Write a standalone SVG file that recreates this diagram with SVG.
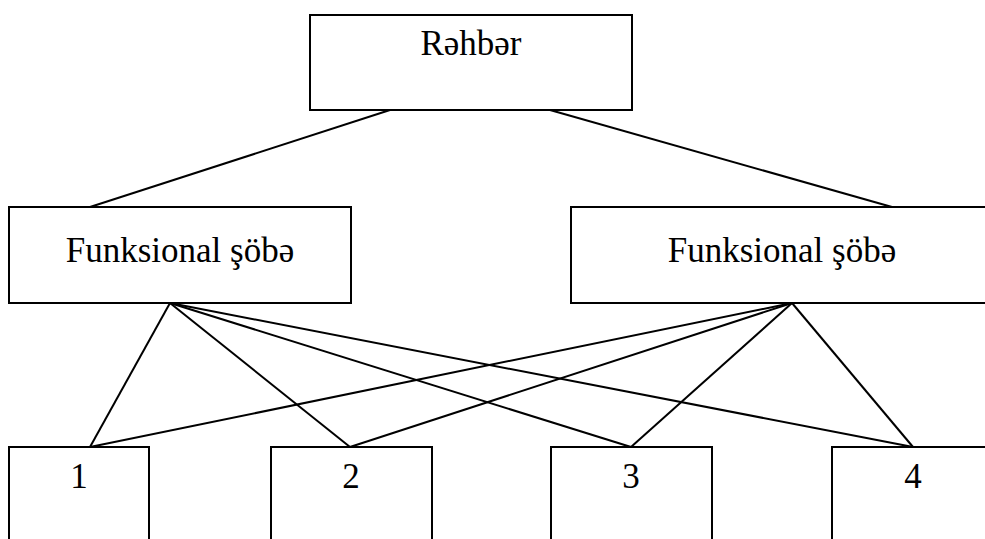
<svg xmlns="http://www.w3.org/2000/svg" width="985" height="539" viewBox="0 0 985 539">
  <style>
    .box { fill: #ffffff; stroke: #000000; stroke-width: 2; }
    .link { stroke: #000000; stroke-width: 2; fill: none; }
    .label { font-family: "Liberation Serif", "Times New Roman", serif; font-size: 35px; fill: #000000; text-anchor: middle; }
  </style>
  <rect width="985" height="539" fill="#ffffff"/>

  <g id="connectors">
    <line class="link" x1="390" y1="110" x2="90" y2="207"/>
    <line class="link" x1="550" y1="110" x2="892" y2="207"/>
    <line class="link" x1="170" y1="303" x2="90" y2="447"/>
    <line class="link" x1="170" y1="303" x2="350" y2="447"/>
    <line class="link" x1="170" y1="303" x2="631" y2="447"/>
    <line class="link" x1="170" y1="303" x2="913" y2="447"/>
    <line class="link" x1="792" y1="303" x2="90" y2="447"/>
    <line class="link" x1="792" y1="303" x2="350" y2="447"/>
    <line class="link" x1="792" y1="303" x2="631" y2="447"/>
    <line class="link" x1="792" y1="303" x2="913" y2="447"/>
  </g>

  <g id="node-head">
    <rect class="box" x="310" y="15" width="322" height="95"/>
    <text class="label" x="471" y="55">Rəhbər</text>
  </g>

  <g id="node-dept-left">
    <rect class="box" x="9" y="207" width="342" height="96"/>
    <text class="label" x="180" y="262">Funksional şöbə</text>
  </g>

  <g id="node-dept-right">
    <rect class="box" x="571" y="207" width="422" height="96"/>
    <text class="label" x="782" y="262">Funksional şöbə</text>
  </g>

  <g id="node-1">
    <rect class="box" x="9" y="447" width="140" height="120"/>
    <text class="label" x="79" y="488">1</text>
  </g>

  <g id="node-2">
    <rect class="box" x="271" y="447" width="161" height="120"/>
    <text class="label" x="351" y="488">2</text>
  </g>

  <g id="node-3">
    <rect class="box" x="551" y="447" width="161" height="120"/>
    <text class="label" x="631" y="488">3</text>
  </g>

  <g id="node-4">
    <rect class="box" x="832" y="447" width="162" height="120"/>
    <text class="label" x="913" y="488">4</text>
  </g>
</svg>
